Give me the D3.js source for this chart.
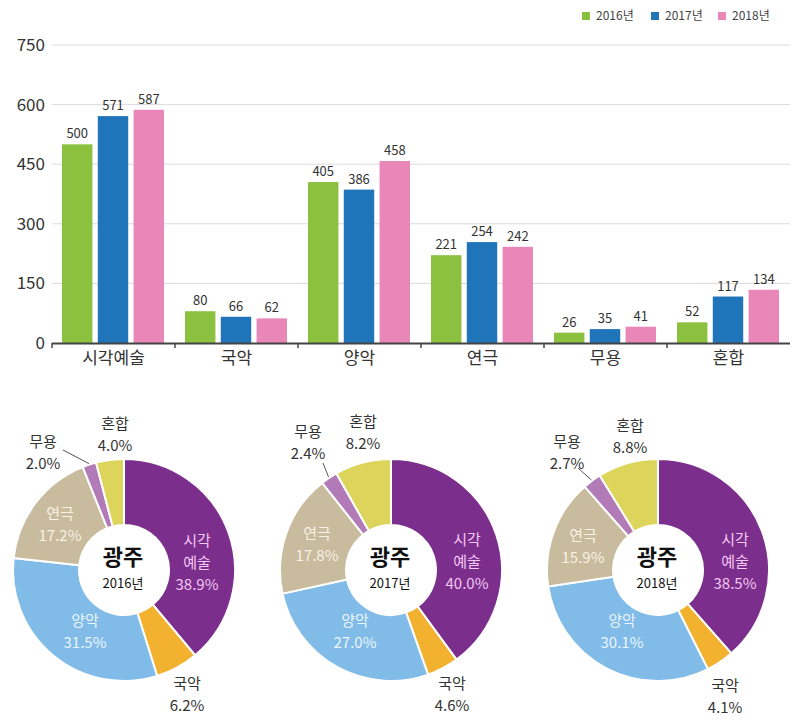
<!DOCTYPE html>
<html><head><meta charset="utf-8">
<script src="https://cdn.jsdelivr.net/npm/d3@7"></script>
<style>
body{margin:0;background:#fff;}
svg{display:block;font-family:"Noto Sans CJK KR","Noto Sans",sans-serif;}
</style></head>
<body>
<svg id="c" width="800" height="727"></svg>
<script>
// ---- data ----
const categories = ["시각예술","국악","양악","연극","무용","혼합"];
const years = ["2016년","2017년","2018년"];
const values2016 = [500,80,405,221,26,52];
const values2017 = [571,66,386,254,35,117];
const values2018 = [587,62,458,242,41,134];
const yTicks = [0,150,300,450,600,750];
const pieLabels = [["시각","예술"],["국악"],["양악"],["연극"],["무용"],["혼합"]];
const cityLabel = "광주";

// ---- styles / layout ----
const barColors = ["#8cc140","#1f74ba","#e887b8"];
const pieColors = ["#7b2e8c","#f2b22f","#81bce8","#c9bb9d","#b27ab6","#dcd45b"];
const series = [values2016, values2017, values2018];
const svg = d3.select("#c");
const txt = "#333";

// Bar chart
const x = d3.scaleBand().domain(categories).range([52,790]);
const xi = d3.scaleBand().domain(years).range([10,112]).paddingInner(0.15);
const y = d3.scaleLinear().domain([0,750]).range([343,45]);

// gridlines
svg.append("g").selectAll("line").data(yTicks.filter(d=>d>0)).join("line")
  .attr("x1",52).attr("x2",790).attr("y1",d=>y(d)).attr("y2",d=>y(d))
  .attr("stroke","#dcdcdc").attr("stroke-width",1);
// y labels
svg.append("g").selectAll("text").data(yTicks).join("text")
  .attr("x",45).attr("y",d=>y(d)).attr("dy","0.35em").attr("text-anchor","end")
  .attr("font-size",17).attr("fill",txt).text(d=>d);

// bars
const gCat = svg.append("g").selectAll("g").data(categories).join("g")
  .attr("transform",d=>`translate(${x(d)},0)`);
gCat.each(function(cat,ci){
  const g = d3.select(this);
  years.forEach((yr,yi)=>{
    const v = series[yi][ci];
    g.append("rect").attr("x",xi(yr)).attr("width",xi.bandwidth())
      .attr("y",y(v)).attr("height",y(0)-y(v)).attr("fill",barColors[yi]);
    g.append("text").attr("x",xi(yr)+xi.bandwidth()/2).attr("y",y(v)-6)
      .attr("text-anchor","middle").attr("font-size",13).attr("fill",txt).text(v);
  });
});
// x axis
svg.append("line").attr("x1",52).attr("x2",790).attr("y1",y(0)+0.5).attr("y2",y(0)+0.5)
  .attr("stroke","#444").attr("stroke-width",2);
svg.append("g").selectAll("line").data(categories).join("line")
  .attr("x1",d=>x(d)).attr("x2",d=>x(d)).attr("y1",y(0)).attr("y2",y(0)+5)
  .attr("stroke","#444").attr("stroke-width",1.5);
svg.append("g").selectAll("text").data(categories).join("text")
  .attr("x",d=>x(d)+x.bandwidth()/2).attr("y",358).attr("dy","0.35em")
  .attr("text-anchor","middle").attr("font-size",17).attr("fill",txt).text(d=>d);

// legend
const legX = [582,651,718];
years.forEach((yr,i)=>{
  svg.append("rect").attr("x",legX[i]).attr("y",12).attr("width",8).attr("height",8).attr("fill",barColors[i]);
  svg.append("text").attr("x",legX[i]+14).attr("y",16).attr("dy","0.35em")
    .attr("font-size",12).attr("fill","#444").text(yr);
});

// Donuts
const centers = [[124,570],[391,570],[658,570]];
const R = 111, r0 = 45;
const labelPos = [
  [[73,-29],[63,114],[-39,51],[-64,-56],[-81,-128],[-9,-146]],
  [[76,-30],[61,114],[-36,51],[-74,-36],[-83,-138],[-28,-148]],
  [[77,-30],[67,116],[-36,51],[-75,-34],[-91,-128],[-28,-144]]
];
const leaderStart = [[-61,-120],[-68,-107],[-80,-102]];
const insideColor = ["#f3c8f2",null,"#eaf5ff","#f7f1e6",null,null];
const pie = d3.pie().sort(null).startAngle(0).endAngle(2*Math.PI);
const arc = d3.arc().innerRadius(r0).outerRadius(R);
const fmt = d3.format(".1f");

series.forEach((vals,di)=>{
  const [cx,cy] = centers[di];
  const total = d3.sum(vals);
  const g = svg.append("g").attr("transform",`translate(${cx},${cy})`);
  const arcs = pie(vals);
  g.selectAll("path").data(arcs).join("path").attr("d",arc)
    .attr("fill",(d,i)=>pieColors[i]).attr("stroke","#fff").attr("stroke-width",2);
  const a4 = arcs[4]; const mid = (a4.startAngle+a4.endAngle)/2;
  g.append("line").attr("x1",leaderStart[di][0]).attr("y1",leaderStart[di][1])
    .attr("x2",Math.sin(mid)*(R+1)).attr("y2",-Math.cos(mid)*(R+1))
    .attr("stroke","#555").attr("stroke-width",1);
  vals.forEach((v,i)=>{
    const [lx,ly] = labelPos[di][i];
    const lines = pieLabels[i].concat([fmt(v/total*100)+"%"]);
    const col = insideColor[i] || txt;
    lines.forEach((t,li)=>{
      g.append("text").attr("x",lx).attr("y",ly+li*22).attr("dy","0.35em")
        .attr("text-anchor","middle").attr("font-size",15).attr("fill",col).text(t);
    });
  });
  g.append("text").attr("x",-1).attr("y",-13).attr("dy","0.35em").attr("text-anchor","middle")
    .attr("font-size",22).attr("font-weight","bold").attr("fill","#111").text(cityLabel);
  g.append("text").attr("x",-1).attr("y",13).attr("dy","0.35em").attr("text-anchor","middle")
    .attr("font-size",13).attr("fill","#111").text(years[di]);
});
</script>
</body></html>
